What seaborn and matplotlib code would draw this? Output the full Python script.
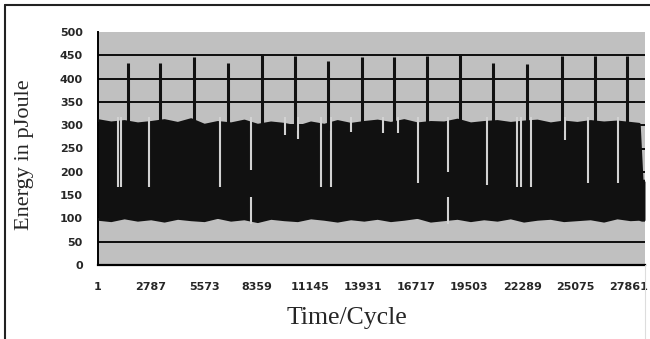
"""
Energy per cycle trace (Excel-style line chart, dense band with spikes)
Run: python plot.py  ->  out.png
"""

import matplotlib
matplotlib.use("Agg")
import matplotlib.pyplot as plt
import pandas as pd
import seaborn as sns
from matplotlib.lines import Line2D
from matplotlib.ticker import FixedLocator, MultipleLocator

# ── Values ──────────────────────────────────────────────────────────────────
# envelope of the dense energy trace (cycle -> upper / lower edge, pJ)
band_cycles = [1, 700, 1400, 2100, 2800, 3500, 4200, 4900, 5600, 6300,
               7000, 7700, 8400, 9100, 9800, 10500, 11200, 11900, 12600, 13300,
               14000, 14700, 15400, 16100, 16800, 17500, 18200, 18900, 19600, 20300,
               21000, 21700, 22400, 23100, 23800, 24500, 25200, 25900, 26600, 27300,
               28000, 28450, 28600, 28750]
band_top = [310, 305, 308, 303, 306, 310, 304, 312, 300, 306,
            303, 309, 300, 305, 302, 296, 305, 300, 308, 302,
            306, 309, 304, 310, 303, 306, 305, 311, 303, 306,
            308, 304, 307, 309, 303, 307, 304, 308, 305, 307,
            304, 302, 180, 180]
band_bottom = [98, 95, 101, 96, 99, 94, 100, 97, 95, 102,
               96, 99, 93, 100, 97, 95, 101, 98, 94, 99,
               96, 100, 95, 98, 102, 94, 97, 100, 95, 99,
               96, 101, 94, 98, 100, 95, 97, 99, 94, 101,
               97, 98, 96, 96]

# periodic energy spikes
spike_cycles = [1575, 3254, 5038, 6822, 8606, 10338, 12069, 13853,
                15532, 17316, 19048, 20779, 22563, 24400, 26131, 27810]
spike_peaks = [433, 433, 446, 433, 450, 448, 438, 446,
               446, 448, 450, 433, 431, 448, 448, 448]

# short stretches where the trace stays low (light gaps in the band)
gap_cycles = [1050, 1208, 2677, 6402, 8029, 9813, 10495, 11702, 12227, 13276,
              14955, 15742, 16844, 18418, 20464, 22038, 22248, 22773, 24557,
              25764, 27338]
gap_floor = [167, 167, 167, 167, 204, 280, 270, 167, 167, 285,
             283, 283, 176, 200, 172, 167, 167, 167, 268, 176, 176]
low_gap_cycles = [8029, 18418]
low_gap_top = [146, 146]

x_ticks = [1, 2787, 5573, 8359, 11145, 13931, 16717, 19503, 22289, 25075, 27861]
y_ticks = [0, 50, 100, 150, 200, 250, 300, 350, 400, 450, 500]

band = pd.DataFrame({"cycle": band_cycles, "top": band_top, "bottom": band_bottom})

# ── Style ───────────────────────────────────────────────────────────────────
sns.set_style("white")
plt.rcParams["font.family"] = ["DejaVu Sans"]

PLOT_BG = "#C0C0C0"
GAP = "#D2D2D2"
INK = "#111111"

fig = plt.figure(figsize=(6.5, 3.39), dpi=100)
ax = fig.add_axes([98 / 650, 74 / 339, 547 / 650, 233 / 339])
ax.set_facecolor(PLOT_BG)

# horizontal gridlines (Excel major gridlines)
for v in y_ticks[1:-1]:
    ax.axhline(v, color="black", lw=1.3, zorder=1)

# dense trace -> filled band
ax.fill_between(band["cycle"], band["bottom"], band["top"], color=INK, lw=0, zorder=2)
sns.lineplot(data=band, x="cycle", y="top", ax=ax, color=INK, lw=2.0, zorder=3)
sns.lineplot(data=band, x="cycle", y="bottom", ax=ax, color=INK, lw=2.0, zorder=3)

# light gaps inside the band
ax.vlines(gap_cycles, gap_floor, 318, color=GAP, lw=1.5, zorder=4)
ax.vlines(low_gap_cycles, 88, low_gap_top, color=GAP, lw=1.5, zorder=4)

# spikes
ax.vlines(spike_cycles, 290, spike_peaks, color=INK, lw=2.2, zorder=5)

ax.set_xlim(1, 28750)
ax.set_ylim(0, 500)
ax.set_xlabel("")
ax.set_ylabel("")

# axes / ticks
for side in ["top", "right"]:
    ax.spines[side].set_visible(False)
ax.spines["left"].set_color("black")
ax.spines["left"].set_linewidth(1.4)
ax.spines["bottom"].set_color("black")
ax.spines["bottom"].set_linewidth(1.6)

ax.yaxis.set_major_locator(FixedLocator(y_ticks))
ax.set_yticklabels([str(v) for v in y_ticks], fontsize=8, fontweight="bold")
ax.tick_params(axis="y", direction="out", length=6, width=1.4, color="black", pad=5)

ax.xaxis.set_major_locator(FixedLocator(x_ticks))
ax.set_xticklabels([str(v) for v in x_ticks], fontsize=8, fontweight="bold")
ax.xaxis.set_minor_locator(MultipleLocator(40))
ax.tick_params(axis="x", which="major", length=0, pad=12)
ax.tick_params(axis="x", which="minor", direction="out", length=4, width=1.2, color="black")

# titles in Times-like serif
fig.text(25 / 650, 1 - 155 / 339, "Energy in pJoule", rotation=90, ha="center",
         va="center", fontsize=16, family="Liberation Serif")
fig.text(347 / 650, 1 - 318 / 339, "Time/Cycle", ha="center", va="center",
         fontsize=18.5, family="Liberation Serif")

# chart-area border (only top and left visible in the crop)
fig.add_artist(Line2D([5 / 650, 1], [1 - 5 / 339, 1 - 5 / 339], color="#222222", lw=1.5))
fig.add_artist(Line2D([5 / 650, 5 / 650], [0, 1 - 5 / 339], color="#222222", lw=1.5))
fig.add_artist(Line2D([645 / 650, 645 / 650], [0, 74 / 339], color="#DDDDDD", lw=0.8))

fig.savefig("out.png", dpi=100)
plt.close(fig)
